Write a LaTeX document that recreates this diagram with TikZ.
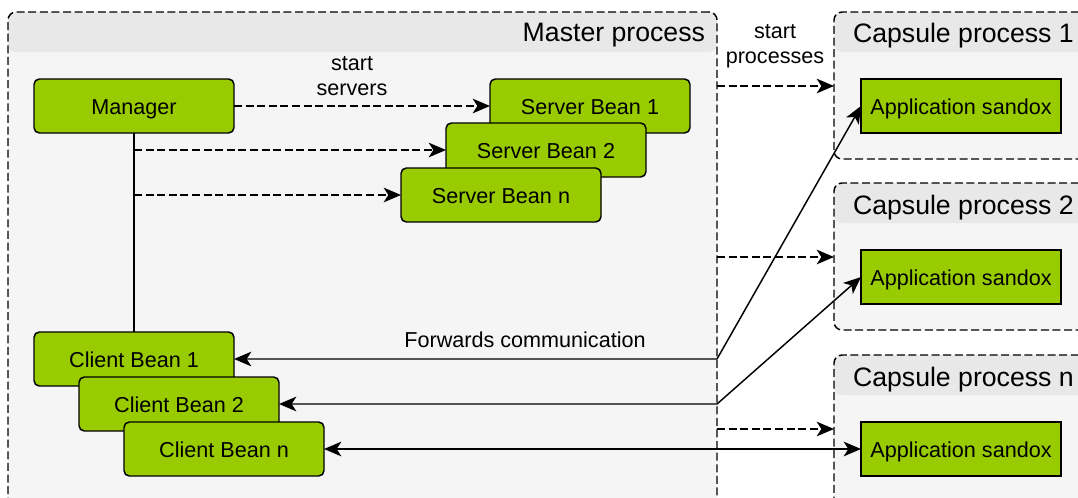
\documentclass[tikz,border=0pt]{standalone}
\usepackage{fontspec}
\setmainfont{Liberation Sans}
\usetikzlibrary{arrows.meta}
\definecolor{beangreen}{HTML}{99CC00}
\definecolor{headgray}{HTML}{E8E8E8}
\definecolor{bodygray}{HTML}{F5F5F5}

\begin{document}
\begin{tikzpicture}[x=0.75pt,y=-0.75pt,
  every node/.style={font=\fontsize{16.2pt}{19pt}\selectfont, inner sep=0pt, outer sep=0pt},
  boxtext/.style={text height=12.3pt, text depth=0pt},
  bean/.style={boxtext, draw=black, line width=1.1pt, fill=beangreen, rounded corners=4pt,
    minimum width=150pt, minimum height=40.5pt},
  sandbox/.style={boxtext, draw=black, line width=1.1pt, fill=beangreen,
    minimum width=150pt, minimum height=40.5pt},
  container/.style={draw=black, line width=1.1pt, dash pattern=on 6pt off 2.7pt,
    rounded corners=6pt, fill=bodygray,
    path picture={\fill[headgray] (path picture bounding box.north west)
      rectangle ([yshift=-30pt]path picture bounding box.north east);}},
  title/.style={font=\fontsize{20pt}{24pt}\selectfont},
  label/.style={align=center, font=\fontsize{16.2pt}{19pt}\selectfont},
  dasharrow/.style={line width=1.1pt, dash pattern=on 6pt off 2.7pt, -{Stealth[length=13pt,width=11pt,inset=3.5pt]}},
  biarrow/.style={line width=1.1pt,
    {Stealth[length=13pt,width=11pt,inset=3.5pt]}-{Stealth[length=13pt,width=11pt,inset=3.5pt]}},
  plainline/.style={line width=1.1pt}
]
\useasboundingbox (0,0) rectangle (1078,497);
\clip (0,0) rectangle (1078,497);

% process containers
\node[container, minimum width=531.75pt, minimum height=396pt] (master) at (362.5,276) {};
\node[container, minimum width=207pt, minimum height=110.25pt] (cap1) at (972,85.5) {};
\node[container, minimum width=207pt, minimum height=110.25pt] (cap2) at (972,256.5) {};
\node[container, minimum width=207pt, minimum height=138.75pt] (capn) at (972,447.5) {};

\node[title, anchor=east] (mastertitle) at (705,35.5) {Master process};
\node[title, anchor=west] (cap1title) at (853,35.5) {Capsule process 1};
\node[title, anchor=west] (cap2title) at (853,207.5) {Capsule process 2};
\node[title, anchor=west] (capntitle) at (853,379.5) {Capsule process n};

% beans inside the master process
\node[bean] (mgr) at (134,106) {Manager};
\node[bean] (sb1) at (590,106) {Server Bean 1};
\node[bean] (sb2) at (546,150) {Server Bean 2};
\node[bean] (sbn) at (501,195) {Server Bean n};
\node[bean] (cb1) at (134,359) {Client Bean 1};
\node[bean] (cb2) at (179,404) {Client Bean 2};
\node[bean] (cbn) at (224,449) {Client Bean n};

% sandboxes inside the capsules
\node[sandbox] (app1) at (961,106) {Application sandox};
\node[sandbox] (app2) at (961,277) {Application sandox};
\node[sandbox] (appn) at (961,449) {Application sandox};

% manager starts the servers
\draw[dasharrow] (mgr.east) -- (sb1.west);
\draw[dasharrow] (mgr.south |- sb2.west) -- (sb2.west);
\draw[dasharrow] (mgr.south |- sbn.west) -- (sbn.west);
\draw[plainline] (mgr.south) -- (cb1.north);
\node[label] (startservers) at (352,76) {start\\servers};

% master starts the capsule processes
\draw[dasharrow] (master.east |- 0,86) -- (cap1.west |- 0,86);
\draw[dasharrow] (master.east |- 0,257) -- (cap2.west |- 0,257);
\draw[dasharrow] (master.east |- 0,429) -- (capn.west |- 0,429);
\node[label] (startproc) at (775,46) {start\\processes};

% forwarded communication
\draw[biarrow] (cb1.east) -- (master.east |- cb1.east) -- (app1.west);
\draw[biarrow] (cb2.east) -- (master.east |- cb2.east) -- (app2.west);
\draw[biarrow] (cbn.east) -- (appn.west);
\node[label] (fwd) at (525,340) {Forwards communication};
\end{tikzpicture}
\end{document}
